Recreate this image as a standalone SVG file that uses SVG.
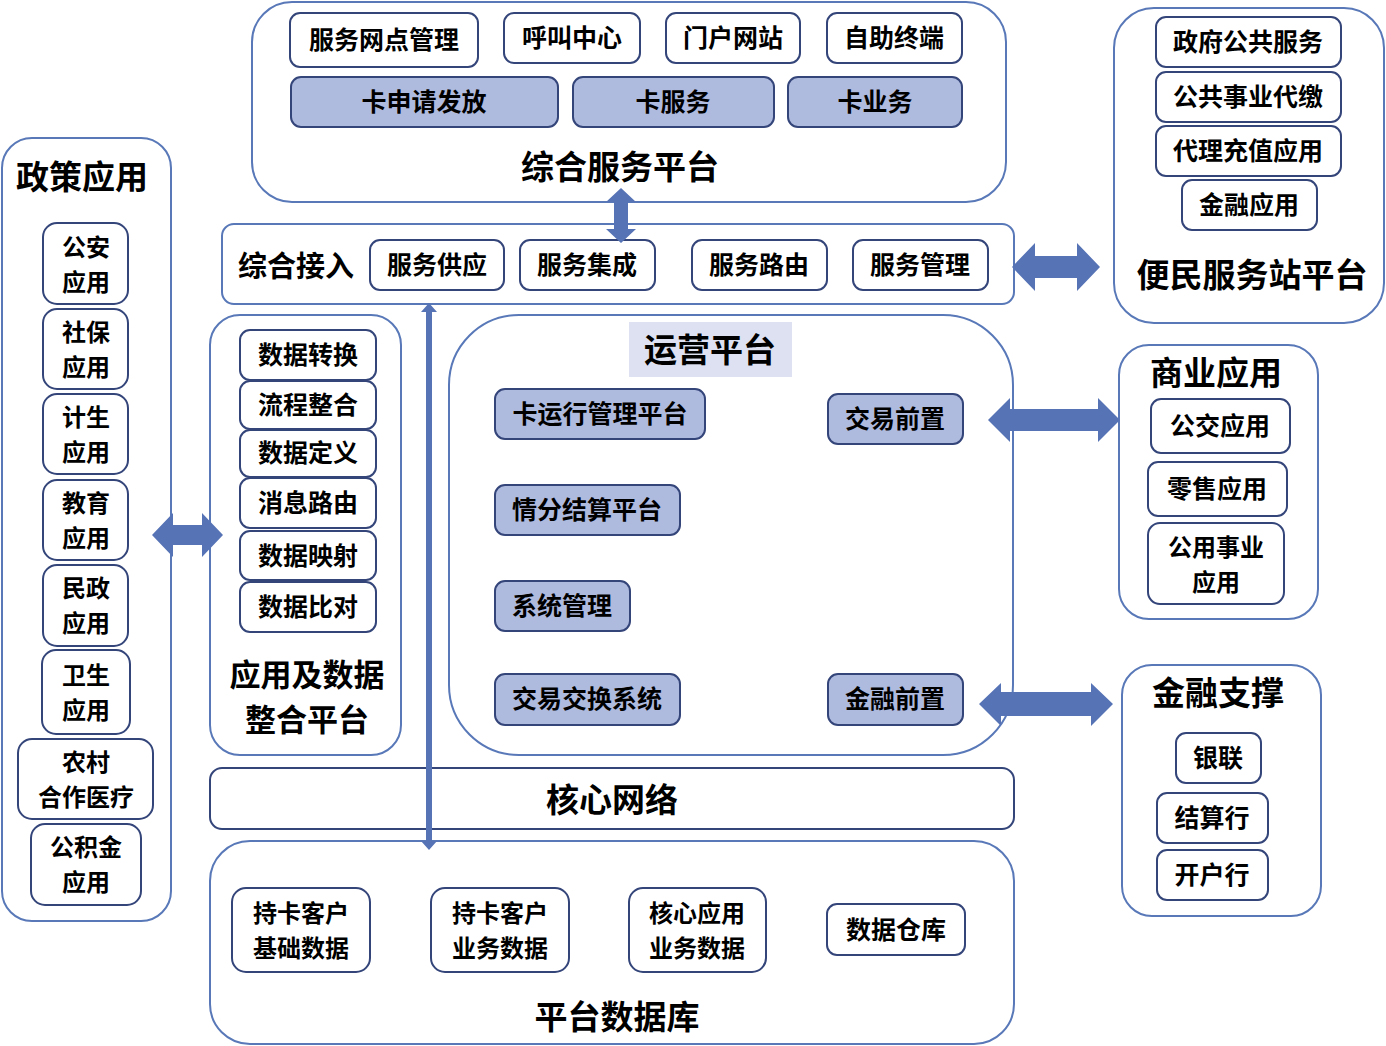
<svg xmlns="http://www.w3.org/2000/svg" width="1386" height="1046" viewBox="0 0 1386 1046">
<style>
.c{fill:#fff;stroke:#5878b8;stroke-width:2}
.b{fill:#fff;stroke:#34457a;stroke-width:2}
.f{fill:#afbadf;stroke:#34457a;stroke-width:2}
.a{fill:#5673b6}
text{font-family:"Noto Sans CJK SC","Liberation Sans",sans-serif;font-weight:bold;fill:#000;text-anchor:middle;dominant-baseline:central;transform:translateY(-2px)}
.t{font-size:25px}
.m{font-size:24px}
.h{font-size:33px}
</style>
<rect width="1386" height="1046" fill="#fff"/>
<g id="zonghe-fuwu">
<rect class="c" x="252" y="2" width="754" height="200" rx="40"/>
<text class="h" x="620" y="167">综合服务平台</text>
</g>
<g id="n-wangdian"><rect class="b" x="290" y="13" width="188" height="54" rx="10"/><text class="t" x="384" y="40">服务网点管理</text></g>
<g id="n-hujiao"><rect class="b" x="504" y="13" width="136" height="50" rx="10"/><text class="t" x="572" y="38">呼叫中心</text></g>
<g id="n-menhu"><rect class="b" x="666" y="13" width="134" height="50" rx="10"/><text class="t" x="733" y="38">门户网站</text></g>
<g id="n-zizhu"><rect class="b" x="827" y="13" width="135" height="50" rx="10"/><text class="t" x="894" y="38">自助终端</text></g>
<g id="n-kashenqing"><rect class="f" x="291" y="77" width="267" height="50" rx="10"/><text class="t" x="424" y="102">卡申请发放</text></g>
<g id="n-kafuwu"><rect class="f" x="573" y="77" width="201" height="50" rx="10"/><text class="t" x="673" y="102">卡服务</text></g>
<g id="n-kayewu"><rect class="f" x="788" y="77" width="174" height="50" rx="10"/><text class="t" x="875" y="102">卡业务</text></g>

<g id="zonghe-jieru">
<rect class="c" x="222" y="224" width="792" height="80" rx="12"/>
<text x="296" y="266" style="font-size:29px">综合接入</text>
</g>
<g id="n-gongying"><rect class="b" x="370" y="240" width="134" height="50" rx="10"/><text class="t" x="437" y="265">服务供应</text></g>
<g id="n-jicheng"><rect class="b" x="520" y="240" width="135" height="50" rx="10"/><text class="t" x="587" y="265">服务集成</text></g>
<g id="n-luyou"><rect class="b" x="692" y="240" width="135" height="50" rx="10"/><text class="t" x="759" y="265">服务路由</text></g>
<g id="n-guanli"><rect class="b" x="853" y="240" width="135" height="50" rx="10"/><text class="t" x="920" y="265">服务管理</text></g>

<g id="bianmin">
<rect class="c" x="1114" y="8" width="270" height="315" rx="40"/>
<text class="h" x="1252" y="275">便民服务站平台</text>
</g>
<g id="n-zhengfu"><rect class="b" x="1156" y="17" width="185" height="50" rx="10"/><text class="t" x="1248" y="42">政府公共服务</text></g>
<g id="n-daijiao"><rect class="b" x="1156" y="72" width="185" height="50" rx="10"/><text class="t" x="1248" y="97">公共事业代缴</text></g>
<g id="n-chongzhi"><rect class="b" x="1156" y="126" width="185" height="50" rx="10"/><text class="t" x="1248" y="151">代理充值应用</text></g>
<g id="n-jinrongyy"><rect class="b" x="1182" y="180" width="135" height="50" rx="10"/><text class="t" x="1249" y="205">金融应用</text></g>

<g id="zhengce">
<rect class="c" x="2" y="138" width="169" height="783" rx="30"/>
<text class="h" x="82" y="177">政策应用</text>
</g>
<g id="n-gongan"><rect class="b" x="43" y="223" width="85" height="81" rx="14"/><text class="m"><tspan x="86" y="247">公安</tspan><tspan x="86" y="282">应用</tspan></text></g>
<g id="n-shebao"><rect class="b" x="43" y="309" width="85" height="80" rx="14"/><text class="m"><tspan x="86" y="332">社保</tspan><tspan x="86" y="367">应用</tspan></text></g>
<g id="n-jisheng"><rect class="b" x="43" y="394" width="85" height="80" rx="14"/><text class="m"><tspan x="86" y="417">计生</tspan><tspan x="86" y="452">应用</tspan></text></g>
<g id="n-jiaoyu"><rect class="b" x="43" y="480" width="85" height="80" rx="14"/><text class="m"><tspan x="86" y="503">教育</tspan><tspan x="86" y="538">应用</tspan></text></g>
<g id="n-minzheng"><rect class="b" x="43" y="565" width="85" height="81" rx="14"/><text class="m"><tspan x="86" y="588">民政</tspan><tspan x="86" y="623">应用</tspan></text></g>
<g id="n-weisheng"><rect class="b" x="42" y="650" width="88" height="84" rx="14"/><text class="m"><tspan x="86" y="675">卫生</tspan><tspan x="86" y="710">应用</tspan></text></g>
<g id="n-nongcun"><rect class="b" x="18" y="739" width="135" height="80" rx="14"/><text class="m"><tspan x="86" y="762">农村</tspan><tspan x="86" y="797">合作医疗</tspan></text></g>
<g id="n-gongjijin"><rect class="b" x="31" y="824" width="110" height="81" rx="14"/><text class="m"><tspan x="86" y="847">公积金</tspan><tspan x="86" y="882">应用</tspan></text></g>

<g id="zhenghe">
<rect class="c" x="210" y="315" width="191" height="440" rx="30"/>
<text style="font-size:31px"><tspan x="307" y="674">应用及数据</tspan><tspan x="307" y="719">整合平台</tspan></text>
</g>
<g id="n-zhuanhuan"><rect class="b" x="240" y="330" width="136" height="50" rx="10"/><text class="t" x="308" y="355">数据转换</text></g>
<g id="n-liucheng"><rect class="b" x="240" y="381" width="136" height="48" rx="10"/><text class="t" x="308" y="405">流程整合</text></g>
<g id="n-dingyi"><rect class="b" x="240" y="430" width="136" height="47" rx="10"/><text class="t" x="308" y="453">数据定义</text></g>
<g id="n-xiaoxi"><rect class="b" x="240" y="478" width="136" height="50" rx="10"/><text class="t" x="308" y="503">消息路由</text></g>
<g id="n-yingshe"><rect class="b" x="240" y="531" width="136" height="49" rx="10"/><text class="t" x="308" y="556">数据映射</text></g>
<g id="n-bidui"><rect class="b" x="240" y="582" width="136" height="50" rx="10"/><text class="t" x="308" y="607">数据比对</text></g>

<g id="yunying">
<rect class="c" x="449" y="315" width="564" height="440" rx="70"/>
<rect x="629" y="322" width="163" height="55" fill="#dde1f1"/>
<text class="h" x="710" y="350">运营平台</text>
</g>
<g id="n-kayunxing"><rect class="f" x="495" y="389" width="210" height="50" rx="10"/><text class="t" x="600" y="414">卡运行管理平台</text></g>
<g id="n-qingfen"><rect class="f" x="495" y="485" width="185" height="50" rx="10"/><text class="t" x="587" y="510">情分结算平台</text></g>
<g id="n-xitong"><rect class="f" x="495" y="581" width="135" height="50" rx="10"/><text class="t" x="562" y="606">系统管理</text></g>
<g id="n-jiaohuan"><rect class="f" x="495" y="674" width="185" height="51" rx="10"/><text class="t" x="587" y="699">交易交换系统</text></g>
<g id="n-jiaoyiqz"><rect class="f" x="828" y="394" width="135" height="50" rx="10"/><text class="t" x="895" y="419">交易前置</text></g>
<g id="n-jinrongqz"><rect class="f" x="828" y="674" width="135" height="51" rx="10"/><text class="t" x="895" y="699">金融前置</text></g>

<g id="shangye">
<rect class="c" x="1119" y="345" width="199" height="274" rx="30"/>
<text class="h" x="1216" y="373">商业应用</text>
</g>
<g id="n-gongjiao"><rect class="b" x="1151" y="399" width="139" height="54" rx="10"/><text class="t" x="1220" y="426">公交应用</text></g>
<g id="n-lingshou"><rect class="b" x="1148" y="462" width="139" height="54" rx="10"/><text class="t" x="1217" y="489">零售应用</text></g>
<g id="n-gongyong"><rect class="b" x="1148" y="523" width="136" height="81" rx="12"/><text class="m"><tspan x="1216" y="547">公用事业</tspan><tspan x="1216" y="582">应用</tspan></text></g>

<g id="jinrong">
<rect class="c" x="1122" y="665" width="199" height="251" rx="30"/>
<text class="h" x="1218" y="693">金融支撑</text>
</g>
<g id="n-yinlian"><rect class="b" x="1176" y="733" width="85" height="50" rx="10"/><text class="t" x="1218" y="758">银联</text></g>
<g id="n-jiesuan"><rect class="b" x="1157" y="793" width="111" height="50" rx="10"/><text class="t" x="1212" y="818">结算行</text></g>
<g id="n-kaihu"><rect class="b" x="1157" y="850" width="111" height="50" rx="10"/><text class="t" x="1212" y="875">开户行</text></g>

<g id="hexin">
<rect class="c" x="210" y="768" width="804" height="61" rx="12" style="stroke:#34457a"/>
<text class="h" x="612" y="800">核心网络</text>
</g>

<g id="shujuku">
<rect class="c" x="210" y="841" width="804" height="203" rx="40"/>
<text class="h" x="617" y="1017">平台数据库</text>
</g>
<g id="n-jichu"><rect class="b" x="232" y="888" width="138" height="84" rx="14"/><text class="m"><tspan x="301" y="913">持卡客户</tspan><tspan x="301" y="948">基础数据</tspan></text></g>
<g id="n-yewu"><rect class="b" x="431" y="888" width="138" height="84" rx="14"/><text class="m"><tspan x="500" y="913">持卡客户</tspan><tspan x="500" y="948">业务数据</tspan></text></g>
<g id="n-hexinyy"><rect class="b" x="629" y="888" width="137" height="84" rx="14"/><text class="m"><tspan x="697" y="913">核心应用</tspan><tspan x="697" y="948">业务数据</tspan></text></g>
<g id="n-cangku"><rect class="b" x="827" y="904" width="138" height="51" rx="10"/><text class="t" x="896" y="930">数据仓库</text></g>

<g id="connectors">
<polygon class="a" points="621,188 636,202 628,202 628,229 636,229 621,243 606,229 614,229 614,202 606,202"/>
<polygon class="a" points="1012,267 1035,243 1035,256 1077,256 1077,243 1100,267 1077,291 1077,278 1035,278 1035,291"/>
<polygon class="a" points="152,535 173,513 173,525 202,525 202,513 223,535 202,557 202,545 173,545 173,557"/>
<polygon class="a" points="988,420 1010,398 1010,409 1098,409 1098,398 1120,420 1098,442 1098,431 1010,431 1010,442"/>
<polygon class="a" points="979,704 1001,683 1001,692 1091,692 1091,683 1113,704 1091,726 1091,716 1001,716 1001,726"/>
<polygon class="a" points="429,303 437,312 432,312 432,841 437,841 429,850 421,841 426,841 426,312 421,312"/>
</g>
</svg>
